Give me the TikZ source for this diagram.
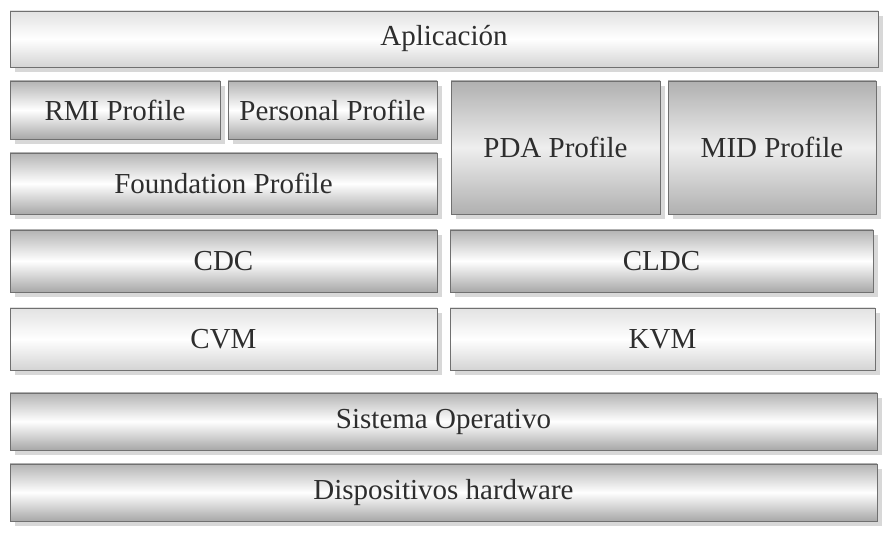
\documentclass[tikz,border=0pt]{standalone}
\usepackage{fontspec}
\setmainfont{Liberation Serif}
\usetikzlibrary{shadows}
\definecolor{edgegray}{HTML}{707070}
\definecolor{txtgray}{HTML}{2E2E2E}
\definecolor{darkband}{HTML}{B4B4B4}
\definecolor{darkbandb}{HTML}{A8A8A8}
\definecolor{lightband}{HTML}{E2E2E2}
\definecolor{lightbandb}{HTML}{D4D4D4}
\definecolor{midband}{HTML}{B0B0B0}
\definecolor{midcenter}{HTML}{EEEEEE}
\definecolor{shadowgray}{HTML}{C8C8C8}
\tikzset{
  layer/.style={draw=edgegray, line width=0.9pt, inner sep=0pt, text=txtgray,
    font=\fontsize{29}{32}\selectfont,
    drop shadow={shadow xshift=5pt, shadow yshift=-5pt, fill=shadowgray, opacity=0.7}},
  darklayer/.style={layer, top color=darkband, bottom color=darkbandb, middle color=white},
  lightlayer/.style={layer, top color=lightband, bottom color=lightbandb, middle color=white},
  graylayer/.style={layer, top color=midband, bottom color=midband, middle color=midcenter},
}
\begin{document}
\begin{tikzpicture}[x=1pt,y=-1pt]
\useasboundingbox[fill=white] (0,0) rectangle (887,534);
\node[lightlayer, minimum width=868pt, minimum height=56pt] (app) at (444,39) {Aplicación};
\node[darklayer, minimum width=210pt, minimum height=58pt] (rmi) at (115,110) {RMI Profile};
\node[darklayer, minimum width=209pt, minimum height=58pt] (pers) at (332.5,110) {Personal Profile};
\node[darklayer, minimum width=427pt, minimum height=61pt] (found) at (223.5,183.5) {Foundation Profile};
\node[graylayer, minimum width=209pt, minimum height=133pt] (pda) at (555.5,147.5) {PDA Profile};
\node[graylayer, minimum width=208pt, minimum height=133pt] (mid) at (772,147.5) {MID Profile};
\node[darklayer, minimum width=427pt, minimum height=62pt] (cdc) at (223.5,261) {CDC};
\node[darklayer, minimum width=423pt, minimum height=62pt] (cldc) at (661.5,261) {CLDC};
\node[lightlayer, minimum width=427pt, minimum height=62pt] (cvm) at (223.5,339) {CVM};
\node[lightlayer, minimum width=425pt, minimum height=62pt] (kvm) at (662.5,339) {KVM};
\node[darklayer, minimum width=867pt, minimum height=57pt] (so) at (443.5,421.5) {Sistema Operativo};
\node[darklayer, minimum width=867pt, minimum height=57pt] (hw) at (443.5,492.5) {Dispositivos hardware};
\end{tikzpicture}
\end{document}
